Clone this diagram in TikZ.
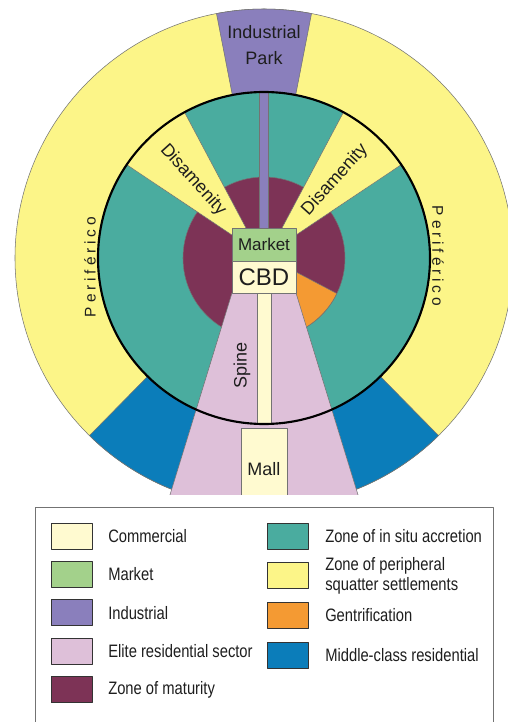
\documentclass[tikz,border=0pt]{standalone}
\usepackage{fontspec}
\setmainfont{Liberation Sans}
\newfontfamily\legendfont[FakeStretch=0.82]{Liberation Sans}
\newfontfamily\ringfont[LetterSpace=25]{Liberation Sans}

\definecolor{Commercial}{HTML}{FFFAD0}
\definecolor{Market}{HTML}{A3D18B}
\definecolor{Industrial}{HTML}{8A7FBC}
\definecolor{Elite}{HTML}{DEC0D9}
\definecolor{Maturity}{HTML}{7D3356}
\definecolor{Accretion}{HTML}{4AAC9F}
\definecolor{Peripheral}{HTML}{FCF588}
\definecolor{Gentrification}{HTML}{F49A33}
\definecolor{MiddleClass}{HTML}{0B7DBA}
\definecolor{Ink}{HTML}{1E1E1E}

\tikzset{
  zone/.style={draw=black!55,line width=0.4pt},
  zonebox/.style={zone,minimum width=48pt,inner sep=0pt,text=Ink},
  maplabel/.style={text=Ink,inner sep=0pt,font=\fontsize{13.5}{19.5}\selectfont},
  swatch/.style={draw=black!80,line width=0.7pt,minimum width=30.75pt,minimum height=19.5pt,inner sep=0pt},
  legtext/.style={anchor=west,align=left,inner sep=0pt,text=Ink,font=\legendfont\fontsize{13.5}{14.5}\selectfont}
}

\begin{document}
\begin{tikzpicture}[x=0.75pt,y=0.75pt,line join=round]
  \useasboundingbox (-264,258) rectangle (244,-464);

  % the city, cut off along the bottom
  \begin{scope}
    \clip (-264,258) rectangle (244,-236);
    % periferico ring
    \draw[zone,fill=Peripheral] (0,0) circle[radius=249];
    \draw[zone,fill=Industrial] (79:166) arc[start angle=79,end angle=101,radius=166]
      -- (101:249) arc[start angle=101,end angle=79,radius=249] -- cycle;
    \draw[zone,fill=MiddleClass] (225.5:166) arc[start angle=225.5,end angle=270,radius=166]
      -- (270:249) arc[start angle=270,end angle=225.5,radius=249] -- cycle;
    \draw[zone,fill=MiddleClass] (270:166) arc[start angle=270,end angle=314.5,radius=166]
      -- (314.5:249) arc[start angle=314.5,end angle=270,radius=249] -- cycle;
    % accretion and maturity
    \draw[zone,fill=Accretion] (0,0) circle[radius=166];
    \draw[zone,fill=Maturity] (0,0) circle[radius=81];
    \draw[zone,fill=Gentrification] (32,-14) -- (-26:81)
      arc[start angle=-26,end angle=-62,radius=81] -- (32,-35) -- cycle;
    % disamenity wedges
    \draw[zone,fill=Peripheral] (-32,23) -- (145.8:166)
      arc[start angle=145.8,end angle=118.6,radius=166] -- (-18,30) -- cycle;
    \draw[zone,fill=Peripheral] (32,23) -- (34.2:166)
      arc[start angle=34.2,end angle=61.4,radius=166] -- (18,30) -- cycle;
    % elite sector with spine
    \draw[zone,fill=Elite] (-32,-35) -- (32,-35) -- (95,-240) -- (-95,-240) -- cycle;
    \draw[zone,fill=Commercial] (-7,-35) rectangle (7,-166);
    \draw[zone,fill=Industrial] (-4.5,30) rectangle (4.5,166);
    \draw[line width=1.6pt] (0,0) circle[radius=166];
    \draw[zone,fill=Commercial] (-23,-170) rectangle (23,-240);
  \end{scope}

  \node[zonebox,fill=Market,minimum height=24.75pt,font=\fontsize{12.75}{14}\selectfont] (market) at (0,13.5) {Market};
  \node[zonebox,fill=Commercial,minimum height=24pt,font=\fontsize{18}{20}\selectfont] (cbd) at (0,-19) {CBD};

  \node[maplabel,align=center] (ipark) at (0,213) {Industrial\\Park};
  \node[maplabel,rotate=90] (spine) at (-22,-107) {Spine};
  \node[maplabel] (mall) at (0,-211) {Mall};
  \node[maplabel,rotate=-48] (disL) at (-71,78) {Disamenity};
  \node[maplabel,rotate=48] (disR) at (71,78) {Disamenity};
  \node[maplabel,rotate=90,font=\ringfont\fontsize{11.6}{13}\selectfont] (perL) at (-174,-9) {Periférico};
  \node[maplabel,rotate=-90,font=\ringfont\fontsize{11.6}{13}\selectfont] (perR) at (174,2) {Periférico};

  % key
  \draw[draw=black!55,line width=0.6pt,fill=white] (-229,-249) rectangle (229,-480);
  \foreach \col/\txt [count=\i from 0] in {Commercial/Commercial,Market/Market,
      Industrial/Industrial,Elite/Elite residential sector,Maturity/Zone of maturity}{
    \node[swatch,fill=\col] (lsw\i) at (-192.5,{-278-38.4*\i}) {};
    \node[legtext] (ltx\i) at (-156,{-278-38.4*\i}) {\txt};
  }
  \foreach \col/\txt [count=\i from 0] in {Accretion/Zone of in situ accretion,
      Peripheral/{Zone of peripheral\\squatter settlements},
      Gentrification/Gentrification,MiddleClass/Middle-class residential}{
    \node[swatch,fill=\col] (rsw\i) at (23.5,{-278-39.7*\i}) {};
    \node[legtext] (rtx\i) at (61,{-278-39.7*\i}) {\txt};
  }
\end{tikzpicture}
\end{document}
